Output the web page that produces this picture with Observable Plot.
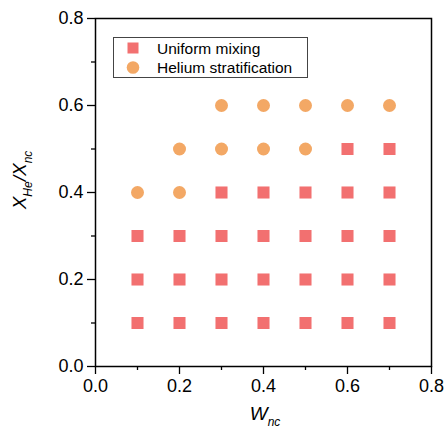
<!DOCTYPE html>
<html>
<head>
<meta charset="utf-8">
<script src="https://cdn.jsdelivr.net/npm/d3@7"></script>
<script src="https://cdn.jsdelivr.net/npm/@observablehq/plot@0.6"></script>
<style>
  html, body { margin: 0; padding: 0; background: #fff; }
  #chart { position: relative; width: 446px; height: 439px; }
</style>
</head>
<body>
<div id="chart"></div>
<script>
// Uniform mixing (squares)
const uniformX = [0.1,0.1,0.1, 0.2,0.2,0.2, 0.3,0.3,0.3,0.3, 0.4,0.4,0.4,0.4, 0.5,0.5,0.5,0.5, 0.6,0.6,0.6,0.6,0.6, 0.7,0.7,0.7,0.7,0.7];
const uniformY = [0.1,0.2,0.3, 0.1,0.2,0.3, 0.1,0.2,0.3,0.4, 0.1,0.2,0.3,0.4, 0.1,0.2,0.3,0.4, 0.1,0.2,0.3,0.4,0.5, 0.1,0.2,0.3,0.4,0.5];
// Helium stratification (circles)
const heliumX = [0.1, 0.2,0.2, 0.3,0.3, 0.4,0.4, 0.5,0.5, 0.6, 0.7];
const heliumY = [0.4, 0.4,0.5, 0.5,0.6, 0.5,0.6, 0.5,0.6, 0.6, 0.6];

const majorTicks = [0.0, 0.2, 0.4, 0.6, 0.8];
const minorTicks = [0.1, 0.3, 0.5, 0.7];
const seriesNames = ["Uniform mixing", "Helium stratification"];
const seriesColors = ["#F27070", "#F3A865"];

const uniform = uniformX.map((x, i) => ({x, y: uniformY[i]}));
const helium = heliumX.map((x, i) => ({x, y: heliumY[i]}));

const FONT = "Arial, 'Liberation Sans', sans-serif";

const plot = Plot.plot({
  width: 446,
  height: 439,
  marginLeft: 95,
  marginRight: 15,
  marginTop: 18,
  marginBottom: 73,
  style: {fontFamily: FONT, background: "#fff", color: "#000"},
  x: {domain: [0, 0.8]},
  y: {domain: [0, 0.8]},
  marks: [
    Plot.axisX({ticks: minorTicks, tickSize: 4, tickFormat: () => "", label: null, strokeWidth: 1.3}),
    Plot.axisY({ticks: minorTicks, tickSize: 4, tickFormat: () => "", label: null, strokeWidth: 1.3}),
    Plot.axisX({ticks: majorTicks, tickSize: 8, tickPadding: 5, tickFormat: d3.format(".1f"), label: null, fontSize: 18, strokeWidth: 1.3}),
    Plot.axisY({ticks: majorTicks, tickSize: 8, tickPadding: 4, tickFormat: d3.format(".1f"), label: null, fontSize: 18, strokeWidth: 1.3}),
    Plot.dot(uniform, {x: "x", y: "y", symbol: "square", r: 6.8, fill: seriesColors[0]}),
    Plot.dot(helium, {x: "x", y: "y", symbol: "circle", r: 6.5, fill: seriesColors[1]}),
    Plot.frame({stroke: "#000", strokeWidth: 1.5})
  ]
});

document.getElementById("chart").appendChild(plot);

const svg = d3.select(plot);
const xs = plot.scale("x"), ys = plot.scale("y");

// X axis label: W_nc
const xl = svg.append("text")
  .attr("x", xs.apply(0.4) + 2)
  .attr("y", 420)
  .attr("text-anchor", "middle")
  .attr("font-family", FONT)
  .attr("font-style", "italic")
  .attr("font-size", 19)
  .attr("fill", "#000");
xl.append("tspan").text("W");
xl.append("tspan").attr("font-size", 12).attr("dy", 6).text("nc");

// Y axis label: X_He/X_nc
const yl = svg.append("text")
  .attr("transform", `translate(26,${ys.apply(0.4) - 12}) rotate(-90)`)
  .attr("text-anchor", "middle")
  .attr("font-family", FONT)
  .attr("font-style", "italic")
  .attr("font-size", 19)
  .attr("fill", "#000");
yl.append("tspan").text("X");
yl.append("tspan").attr("font-size", 12).attr("dy", 6).text("He");
yl.append("tspan").attr("dy", -6).text("/X");
yl.append("tspan").attr("font-size", 12).attr("dy", 6).text("nc");

// Legend box
const lg = svg.append("g");
lg.append("rect")
  .attr("x", 113.5).attr("y", 37.5).attr("width", 194).attr("height", 40)
  .attr("fill", "#fff").attr("stroke", "#444").attr("stroke-width", 1);
lg.append("rect")
  .attr("x", 127.5).attr("y", 42.5).attr("width", 11).attr("height", 11)
  .attr("fill", seriesColors[0]);
lg.append("circle")
  .attr("cx", 133).attr("cy", 67.5).attr("r", 6.3)
  .attr("fill", seriesColors[1]);
seriesNames.forEach((name, i) => {
  lg.append("text")
    .attr("x", 157).attr("y", 54 + i * 19)
    .attr("text-anchor", "start")
    .attr("font-family", FONT).attr("font-size", 15.5).attr("fill", "#000")
    .text(name);
});
</script>
</body>
</html>
